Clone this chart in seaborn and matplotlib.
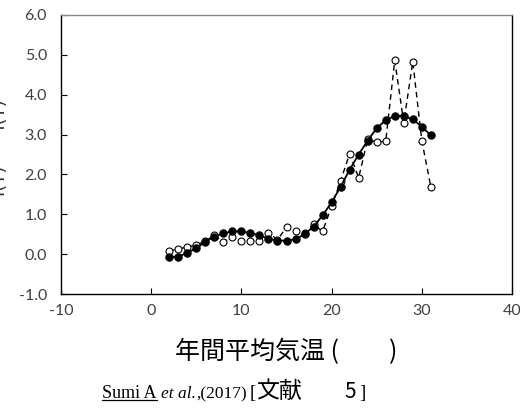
import matplotlib
matplotlib.use("Agg")
import matplotlib.pyplot as plt
from matplotlib.transforms import IdentityTransform
import seaborn as sns
import pandas as pd

# Annual mean temperature (°C) grid
temperature = list(range(2, 32))

# Observed values (open circles, dashed)
observed = [0.08, 0.13, 0.18, 0.23, 0.33, 0.47, 0.30, 0.44, 0.32, 0.33,
            0.33, 0.54, 0.36, 0.68, 0.59, 0.52, 0.75, 0.57, 1.20, 1.84,
            2.52, 1.92, 2.88, 2.81, 2.83, 4.86, 3.30, 4.83, 2.85, 1.69]

# Fitted curve (filled circles, solid)
fitted = [-0.07, -0.06, 0.03, 0.15, 0.31, 0.44, 0.52, 0.57, 0.57, 0.53,
          0.47, 0.39, 0.34, 0.34, 0.37, 0.50, 0.69, 0.97, 1.30, 1.69,
          2.12, 2.50, 2.85, 3.16, 3.36, 3.47, 3.47, 3.38, 3.20, 2.98]

x_ticks = [-10, 0, 10, 20, 30, 40]
y_ticks = [-1.0, 0.0, 1.0, 2.0, 3.0, 4.0, 5.0, 6.0]

x_label = "年間平均気温 (\u3000\u3000)"
y_label = "I(T)\u2003\u2003I(T)"

df = pd.DataFrame({"T": temperature, "obs": observed, "fit": fitted})

sns.set_style("ticks")
plt.rcParams["font.family"] = ["Lato", "DejaVu Sans"]

fig = plt.figure(figsize=(5.20, 4.09), dpi=100)
ax = fig.add_axes([61 / 520, 1 - 294 / 409, (512 - 61) / 520, (294 - 15) / 409])

sns.lineplot(data=df, x="T", y="obs", ax=ax, color="black", linewidth=1.0,
             linestyle=(0, (4, 3)), marker="o", markersize=5,
             markerfacecolor="white", markeredgecolor="black",
             markeredgewidth=0.8, zorder=2)
sns.lineplot(data=df, x="T", y="fit", ax=ax, color="black", linewidth=1.3,
             marker="o", markersize=5.3, markerfacecolor="black",
             markeredgecolor="black", zorder=3)

ax.set_xlim(-10, 40)
ax.set_ylim(-1.0, 6.0)
ax.set_xticks(x_ticks)
ax.set_yticks(y_ticks)
ax.set_xticklabels([str(v) for v in x_ticks])
ax.set_yticklabels([f"{v:.1f}" for v in y_ticks])
ax.tick_params(direction="in", length=4, width=0.8, colors="black",
               labelcolor="#404040", labelsize=11.5)
ax.tick_params(axis="y", pad=10)
ax.tick_params(axis="x", pad=7)
for side in ["left", "right", "bottom"]:
    ax.spines[side].set_color("black")
    ax.spines[side].set_linewidth(1.0)
ax.spines["top"].set_color("#888888")
ax.spines["top"].set_linewidth(1.0)
ax.set_xlabel("")
ax.set_ylabel("")

# Axis titles
fig.text(286 / 520, 1 - 352 / 409, x_label, ha="center", va="center",
         fontsize=18, family=["Noto Sans CJK JP", "DejaVu Sans"], color="black")
fig.text(9 / 520, 1 - 148 / 409, y_label, ha="right", va="center",
         rotation=90, fontsize=13, family=["DejaVu Sans"], color="#333333")

# Source citation built from pieces in different styles
fig.canvas.draw()
renderer = fig.canvas.get_renderer()
serif = ["Liberation Serif"]
cjk = ["Noto Sans CJK JP", "DejaVu Sans"]
base_px = 409 - 398
pieces = [
    # text, x start (px) or None to follow the previous piece, style, size, underline
    ("Sumi A", 102, dict(family=serif, style="normal"), 13, True),
    (" ", None, dict(family=serif, style="normal"), 12.5, False),
    ("et al.", None, dict(family=serif, style="italic"), 12.5, False),
    (",(2017)", None, dict(family=serif, style="normal"), 12.5, False),
    ("[", 250, dict(family=serif, style="normal"), 13.5, False),
    ("文献", 256, dict(family=cjk, style="normal"), 16.5, False),
    ("5", 344, dict(family=cjk, style="normal"), 15, False),
    ("]", 359, dict(family=serif, style="normal"), 13.5, False),
]
x_px = 102
for txt, x0, kw, size, underline in pieces:
    if x0 is not None:
        x_px = x0
    t = fig.text(x_px, base_px, txt, transform=IdentityTransform(),
                 ha="left", va="baseline", fontsize=size, color="black", **kw)
    bb = t.get_window_extent(renderer)
    if underline:
        fig.add_artist(plt.Line2D([bb.x0, bb.x1], [base_px - 2, base_px - 2],
                                  transform=IdentityTransform(),
                                  color="black", linewidth=0.9))
    x_px = bb.x1

fig.savefig("out.png", dpi=100)
